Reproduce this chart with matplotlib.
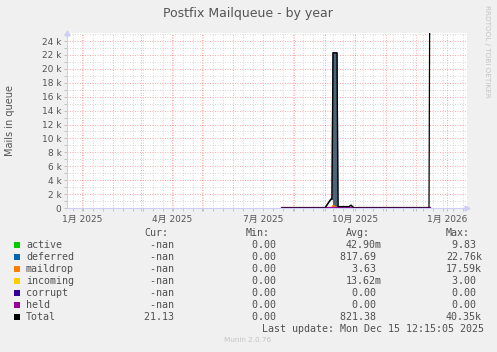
import matplotlib
matplotlib.use("Agg")
import matplotlib.pyplot as plt
import matplotlib.dates as mdates
from matplotlib.patches import Rectangle
from matplotlib.ticker import MultipleLocator, FuncFormatter, FixedLocator
import numpy as np
import datetime as dt

W, H = 497, 352

# ---- data ----
field_dates = ["2025-07-20", "2025-09-01", "2025-09-05", "2025-09-07", "2025-09-08",
               "2025-09-09", "2025-09-13", "2025-09-14", "2025-09-25", "2025-09-27",
               "2025-09-30", "2025-12-14", "2025-12-15"]
total = [0, 0, 900, 1300, 1250, 22300, 22300, 200, 200, 400, 0, 0, 40350]
deferred = [0, 0, 850, 1250, 1200, 22300, 22300, 200, 200, 400, 0, 0, 0]
maildrop = [0, 0, 0, 0, 0, 350, 0, 0, 0, 0, 0, 0, 0]
zeros = [0] * len(field_dates)

legend_names = ["active", "deferred", "maildrop", "incoming", "corrupt", "held", "Total"]
legend_colors = ["#00CC00", "#0066B3", "#FF8000", "#FFCC00", "#330099", "#990099", "#000000"]
cur_vals = ["-nan", "-nan", "-nan", "-nan", "-nan", "-nan", "21.13"]
min_vals = ["0.00"] * 7
avg_vals = ["42.90m", "817.69", "3.63", "13.62m", "0.00", "0.00", "821.38"]
max_vals = ["9.83", "22.76k", "17.59k", "3.00", "0.00", "0.00", "40.35k"]

plt.rcParams["font.family"] = ["DejaVu Sans", "Noto Sans CJK JP"]

dates = [dt.datetime.strptime(d, "%Y-%m-%d") for d in field_dates]

fig = plt.figure(figsize=(W / 100, H / 100), dpi=100, facecolor="#F0F0F0")
ax = fig.add_axes([67 / W, (H - 208) / H, 400 / W, 175 / H])
ax.set_facecolor("white")

ax.set_xlim(dt.datetime(2024, 12, 17), dt.datetime(2026, 1, 21))
ax.set_ylim(0, 25150)

# grid
months = [dt.datetime(2024 + (m // 12), m % 12 + 1, 1) for m in range(12, 12 + 13)]
ax.xaxis.set_major_locator(FixedLocator(mdates.date2num(months)))
def xfmt(v, pos):
    d = mdates.num2date(v)
    return f"{d.month}月 {d.year}" if d.month in (1, 4, 7, 10) else ""
ax.xaxis.set_major_formatter(FuncFormatter(xfmt))
minor_days = np.arange(20080, 20480, 10)
ax.xaxis.set_minor_locator(FixedLocator(minor_days + mdates.date2num(dt.datetime(1970, 1, 1))))
ax.yaxis.set_major_locator(MultipleLocator(2000))
ax.yaxis.set_minor_locator(MultipleLocator(1000))
ax.yaxis.set_major_formatter(FuncFormatter(lambda v, p: "0" if v == 0 else f"{v/1000:g} k"))

ax.grid(which="minor", color="#BBBBBB", linestyle=(0, (1, 2)), linewidth=0.6, alpha=0.8)
ax.grid(which="major", color="#FF0000", linestyle=(0, (1, 2)), linewidth=0.6, alpha=0.45)
ax.set_axisbelow(True)

ax.tick_params(which="both", colors="#BBBBBB", labelcolor="#555555", labelsize=6.5,
               length=2, width=0.6, pad=2)
ax.tick_params(axis="x", pad=3)

for s in ["top", "right"]:
    ax.spines[s].set_visible(False)
for s in ["left", "bottom"]:
    ax.spines[s].set_color("#CDCDF6")
    ax.spines[s].set_linewidth(0.8)
ax.plot([1.0], [0], marker=">", color="#CDCDF6", markersize=3.5, transform=ax.transAxes, clip_on=False)
ax.plot([0], [1.0], marker="^", color="#CDCDF6", markersize=3.5, transform=ax.transAxes, clip_on=False)

# series
big = np.array(deferred) > 5000
ax.fill_between(dates, 0, deferred, where=big, color="#4D6575", linewidth=0)
ax.plot(dates, zeros, color=legend_colors[0], lw=1.5)
ax.plot(dates, deferred, color="#2B4A63", lw=1.0)
ax.plot(dates, maildrop, color=legend_colors[2], lw=1.2)
ax.plot(dates, zeros, color=legend_colors[3], lw=1.5)
ax.plot(dates, zeros, color=legend_colors[4], lw=1.5)
ax.plot(dates, zeros, color=legend_colors[5], lw=1.5)
ax.plot(dates, total, color="#000000", lw=0.9)

# texts
def fx(x):
    return x / W
def fy(y):
    return 1 - y / H

fig.text(fx(248), fy(13), "Postfix Mailqueue - by year", ha="center", va="center",
         fontsize=9, color="#555555")
fig.text(fx(10), fy(121), "Mails in queue", ha="center", va="center", rotation=90,
         fontsize=7, color="#555555")
fig.text(fx(487), fy(5), "RRDTOOL / TOBI OETIKER", ha="center", va="top", rotation=270,
         fontsize=5.2, color="#C4C4C4")

mono = dict(family="DejaVu Sans Mono", fontsize=7.2, color="#505050", va="center")
header_y = 233
for label, xr in zip(["Cur:", "Min:", "Avg:", "Max:"], [168, 270, 370, 470]):
    fig.text(fx(xr), fy(header_y), label, ha="right", **mono)

def cell(v):
    return v if v[-1] in "mk" else v + " "

for i, name in enumerate(legend_names):
    y = 245 + 12 * i
    fig.add_artist(Rectangle((fx(14), fy(y + 3)), 6 / W, 6 / H, transform=fig.transFigure,
                             facecolor=legend_colors[i], edgecolor="none"))
    fig.text(fx(26), fy(y), name, ha="left", **mono)
    for vals, xr in zip([cur_vals, min_vals, avg_vals, max_vals], [180, 282, 382, 482]):
        fig.text(fx(xr), fy(y), cell(vals[i]), ha="right", **mono)

fig.text(fx(484), fy(329), "Last update: Mon Dec 15 12:15:05 2025", ha="right", **mono)
fig.text(fx(248), fy(340), "Munin 2.0.76", ha="center", va="center", fontsize=5.2,
         color="#C4C4C4")

fig.savefig("out.png", dpi=100, facecolor=fig.get_facecolor())
